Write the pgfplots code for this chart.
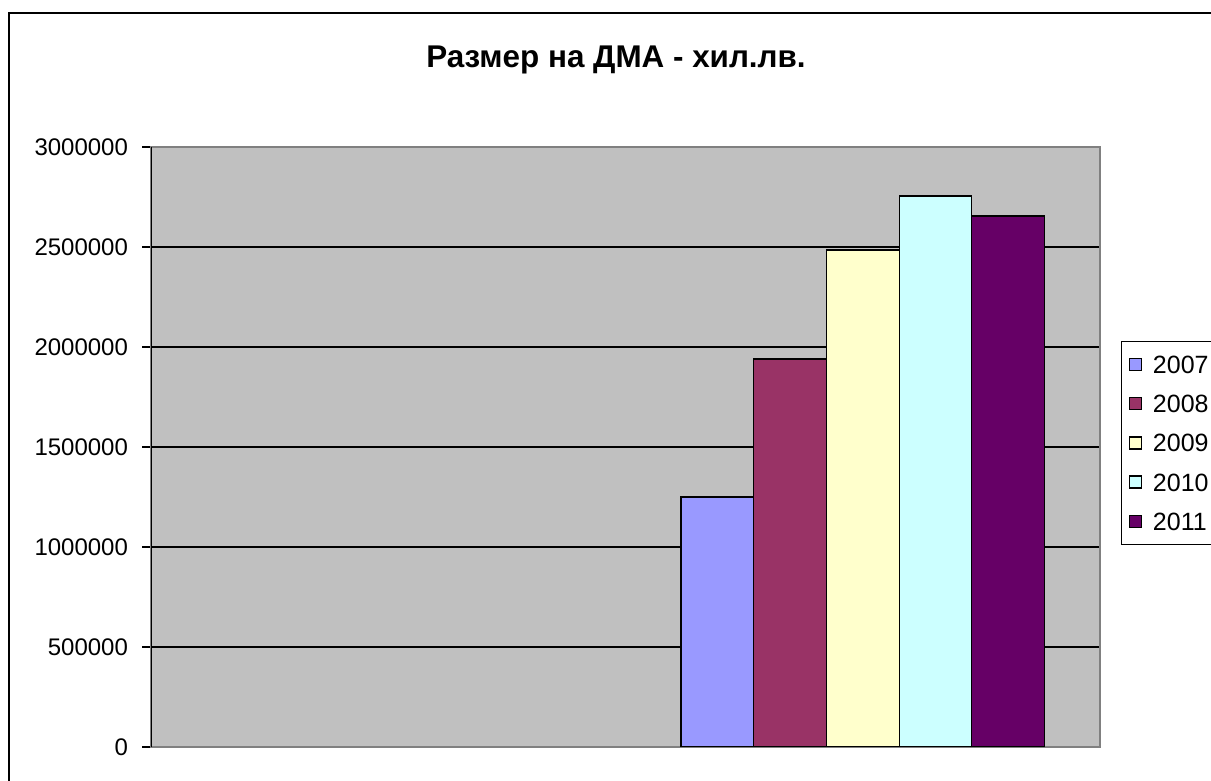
\documentclass[border=0pt]{standalone}
\usepackage{fontspec}
\setmainfont{Liberation Sans}
\usepackage{pgfplots}
\pgfplotsset{compat=1.18}

\definecolor{plotgray}{HTML}{C0C0C0}
\definecolor{framegray}{HTML}{808080}
\definecolor{c2007}{HTML}{9999FF}
\definecolor{c2008}{HTML}{993366}
\definecolor{c2009}{HTML}{FFFFCC}
\definecolor{c2010}{HTML}{CCFFFF}
\definecolor{c2011}{HTML}{660066}

% one category (the second of two); bars are placed side by side around x=1.5
\pgfplotstableread{
x       y
1.1936  1250000
}\tabA
\pgfplotstableread{
x       y
1.3468  1940000
}\tabB
\pgfplotstableread{
x       y
1.5000  2485000
}\tabC
\pgfplotstableread{
x       y
1.6532  2755000
}\tabD
\pgfplotstableread{
x       y
1.8064  2655000
}\tabE

\begin{document}
\begin{tikzpicture}
  \begin{axis}[
    at={(75.5pt,17pt)}, anchor=south west,
    width=474.5pt, height=300pt, scale only axis,
    xmin=0, xmax=2, ymin=0, ymax=3000000,
    xtick=\empty,
    ytick={0,500000,...,3000000},
    ytick pos=left, tick align=outside,
    major tick length=4.5pt,
    scaled y ticks=false,
    /pgf/number format/fixed,
    /pgf/number format/1000 sep={},
    /pgf/number format/assume math mode=true,
    tick label style={font=\fontsize{12}{14}\selectfont},
    yticklabel style={xshift=-3.5pt},
    tick style={black, line width=0.6pt},
    axis background/.style={fill=plotgray},
    axis line style={draw=framegray, line width=0.8pt},
    ymajorgrids,
    grid style={black, line width=0.6pt},
    legend style={
      at={(1.0221,0.6767)}, anchor=north west,
      draw=black, line width=0.6pt, fill=white,
      font=\fontsize{12.5}{15}\selectfont,
      inner xsep=3.5pt, inner ysep=7pt,
      row sep=10.6pt,
      nodes={inner sep=0pt, text height=9pt, text depth=0pt},
      /tikz/every even column/.append style={column sep=0pt},
      /tikz/every odd column/.append style={column sep=5.5pt},
    },
    legend cell align=left,
    legend image code/.code={
      \draw[#1, line width=0.7pt] (0pt,-3pt) rectangle (6pt,3pt);
    },
  ]
    \addplot[ybar, bar width=0.1532, bar shift=0pt, fill=c2007, draw=black, line width=0.6pt] table[x=x, y=y] {\tabA};
    \addplot[ybar, bar width=0.1532, bar shift=0pt, fill=c2008, draw=black, line width=0.6pt] table[x=x, y=y] {\tabB};
    \addplot[ybar, bar width=0.1532, bar shift=0pt, fill=c2009, draw=black, line width=0.6pt] table[x=x, y=y] {\tabC};
    \addplot[ybar, bar width=0.1532, bar shift=0pt, fill=c2010, draw=black, line width=0.6pt] table[x=x, y=y] {\tabD};
    \addplot[ybar, bar width=0.1532, bar shift=0pt, fill=c2011, draw=black, line width=0.6pt] table[x=x, y=y] {\tabE};
    \legend{2007,2008,2009,2010,2011}
    \draw[black, line width=0.8pt] (rel axis cs:0,0) -- (rel axis cs:0,1);
  \end{axis}
  % title
  \node[anchor=base, font=\fontsize{15.7}{18}\selectfont\bfseries] at (308pt,356.5pt) {Размер на ДМА - хил.лв.};
  % chart frame (right and bottom edges fall outside the picture)
  \draw[black, line width=1pt] (4.25pt,-20pt) -- (4.25pt,383.75pt) -- (640pt,383.75pt);
  \pgfresetboundingbox
  \useasboundingbox (0pt,0pt) rectangle (605.5pt,390.5pt);
\end{tikzpicture}
\end{document}
